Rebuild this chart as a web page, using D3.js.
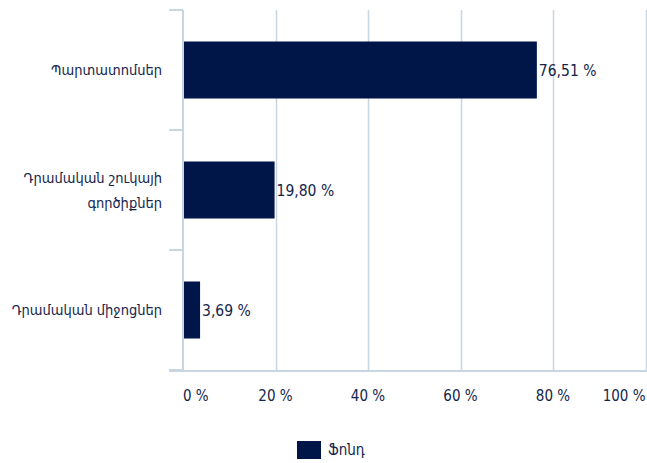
<!DOCTYPE html>
<html>
<head>
<meta charset="utf-8">
<script src="https://cdn.jsdelivr.net/npm/d3@7"></script>
<style>
  body { margin: 0; background: #fff; }
  text { font-family: "DejaVu Sans Condensed", "DejaVu Sans", sans-serif; fill: #14244b; }
</style>
</head>
<body>
<svg id="chart" width="647" height="463"></svg>
<script>
var categories = [["Պարտատոմսեր"], ["Դրամական շուկայի", "գործիքներ"], ["Դրամական միջոցներ"]];
var values = [76.51, 19.80, 3.69];
var ticks = [0, 20, 40, 60, 80, 100];
var seriesName = "Ֆոնդ";

var svg = d3.select("#chart");
var barColor = "#001548";
var gridColor = "#c8d5e3";

var x = d3.scaleLinear().domain([0, 100]).range([183, 645.5]);
var y = d3.scaleBand().domain(d3.range(categories.length)).range([10, 370])
  .paddingInner(0.525).paddingOuter(0.2625);
var y0 = 10, y1 = 370;

// gridlines
svg.selectAll("line.grid").data(ticks.slice(1)).enter().append("line")
  .attr("x1", function(d){ return Math.round(x(d)) + 0.5; })
  .attr("x2", function(d){ return Math.round(x(d)) + 0.5; })
  .attr("y1", y0).attr("y2", y1)
  .attr("stroke", gridColor).attr("stroke-width", 1.5);

// bars
svg.selectAll("rect.bar").data(values).enter().append("rect")
  .attr("x", x(0))
  .attr("y", function(d, i){ return y(i); })
  .attr("width", function(d){ return x(d) - x(0); })
  .attr("height", y.bandwidth())
  .attr("fill", barColor);

// left axis + category ticks
svg.append("line").attr("x1", 183).attr("x2", 183).attr("y1", y0).attr("y2", y1)
  .attr("stroke", gridColor).attr("stroke-width", 2);
var step = (y1 - y0) / categories.length;
svg.selectAll("line.ctick").data(d3.range(categories.length + 1)).enter().append("line")
  .attr("x1", 169).attr("x2", 183)
  .attr("y1", function(i){ return y0 + i * step; })
  .attr("y2", function(i){ return y0 + i * step; })
  .attr("stroke", gridColor).attr("stroke-width", 2);
// bottom axis
svg.append("line").attr("x1", 169).attr("x2", 647).attr("y1", y1 + 1).attr("y2", y1 + 1)
  .attr("stroke", gridColor).attr("stroke-width", 2);

// x tick labels
svg.selectAll("text.xt").data(ticks).enter().append("text")
  .attr("x", function(d){ return x(d); })
  .attr("y", 401)
  .attr("font-size", 15)
  .attr("text-anchor", function(d, i){ return i === 0 ? "start" : (i === ticks.length - 1 ? "end" : "middle"); })
  .text(function(d){ return d + " %"; });

// category labels
svg.selectAll("text.cat").data(categories).enter().append("text")
  .attr("text-anchor", "end")
  .attr("font-size", 14.5)
  .each(function(lines, i){
    var cy = y(i) + y.bandwidth() / 2;
    var t = d3.select(this);
    lines.forEach(function(l, k){
      t.append("tspan").attr("x", 162)
        .attr("y", cy + 5 + (k - (lines.length - 1) / 2) * 25)
        .text(l);
    });
  });

// value labels
svg.selectAll("text.val").data(values).enter().append("text")
  .attr("x", function(d){ return x(d) + 2; })
  .attr("y", function(d, i){ return y(i) + y.bandwidth() / 2 + 6; })
  .attr("font-size", 15.5)
  .text(function(d){ return d.toFixed(2).replace(".", ",") + " %"; });

// legend
svg.append("rect").attr("x", 297).attr("y", 441).attr("width", 24).attr("height", 18).attr("fill", barColor);
svg.append("text").attr("x", 328).attr("y", 455).attr("font-size", 15).text(seriesName);
</script>
</body>
</html>
